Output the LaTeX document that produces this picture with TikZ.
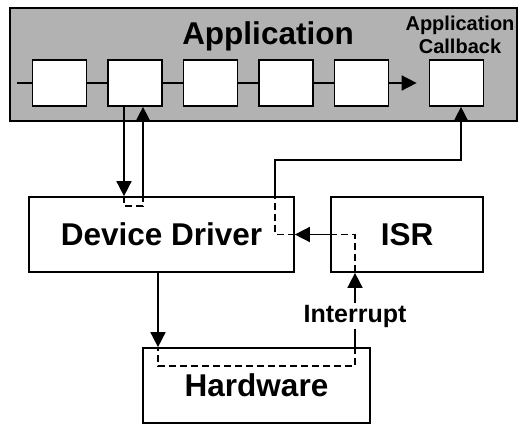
\documentclass[tikz,border=0pt]{standalone}
\usepackage{fontspec}
\setmainfont{Liberation Sans}
\usetikzlibrary{arrows.meta,calc}

\begin{document}
\begin{tikzpicture}[x=1bp,y=-1bp,
  box/.style={draw, line width=1.7bp, fill=white, inner sep=0pt},
  cell/.style={box, minimum width=54bp, minimum height=46bp},
  big/.style={font=\fontsize{31.5bp}{36bp}\selectfont\bfseries},
  small/.style={font=\fontsize{20bp}{23bp}\selectfont\bfseries},
  link/.style={line width=1.6bp},
  arr/.style={link, -{Triangle[length=15bp,width=15bp]}},
  trace/.style={line width=1.6bp, dash pattern=on 7bp off 4bp},
]
\useasboundingbox (0,0) rectangle (522,424);

% application frame and its titles
\node[draw, line width=1.7bp, fill=black!30, minimum width=507bp,
      minimum height=113bp, inner sep=0pt] (app) at (263.5,64.5) {};
\node[big, anchor=base] (apptitle) at (268,44) {Application};
\node[small, anchor=base] (cbtitle1) at (460,30) {Application};
\node[small, anchor=base] (cbtitle2) at (460,53) {Callback};

% processing cells
\foreach \i/\x in {1/59.5,2/135,3/210.5,4/286,5/361.5}
  \node[cell] (c\i) at (\x,83) {};
\node[cell] (cb) at (456.5,83) {};

% lower blocks
\node[box, big, minimum width=265bp, minimum height=75bp] (dd) at (161.5,234.5) {Device Driver};
\node[box, big, minimum width=152bp, minimum height=75bp] (isr) at (407,234.5) {ISR};
\node[box, big, minimum width=227bp, minimum height=75bp] (hw) at (256.5,385.5) {Hardware};
\node[font=\fontsize{25bp}{30bp}\selectfont\bfseries, inner sep=2bp] (intr) at (355,316) {Interrupt};

% helper coordinates
\coordinate (in) at (17,83);
\coordinate (dn) at (124,0);
\coordinate (up) at (143,0);
\coordinate (cbx) at (275,0);
\coordinate (bend) at (275,160);
\coordinate (cbin) at ($(cb.south)+(4.5,0)$);
\coordinate (hwx) at (158,0);

% chain through the cells
\draw[link] (in) -- (c1.west);
\draw[link] (c1.east) -- (c2.west);
\draw[link] (c2.east) -- (c3.west);
\draw[link] (c3.east) -- (c4.west);
\draw[link] (c4.east) -- (c5.west);
\draw[arr, shorten >=12bp] (c5.east) -- (cb.west);

% call into the driver and return
\draw[arr] (dn |- c2.south) -- (dn |- dd.north);
\draw[trace] (dn |- dd.north) -- ++(0,10) -| (up |- dd.north);
\draw[arr] (up |- dd.north) -- (up |- c2.south);

% interrupt path
\draw[link] (intr |- hw.north) -- (intr.south);
\draw[arr] (intr.north) -- (intr |- isr.south);
\draw[trace] (intr |- hw.north) -- ++(0,19) -| (hwx |- hw.north);
\draw[arr] (hwx |- dd.south) -- (hwx |- hw.north);
\draw[trace] (isr.west) -- (intr |- isr.west) -- (intr |- isr.south);
\draw[arr] (isr.west) -- (dd.east);

% callback to the application
\draw[trace] (dd.east) -- (cbx |- dd.east) -- (cbx |- dd.north);
\draw[arr] (cbx |- dd.north) -- (bend) -| (cbin);
\end{tikzpicture}
\end{document}
